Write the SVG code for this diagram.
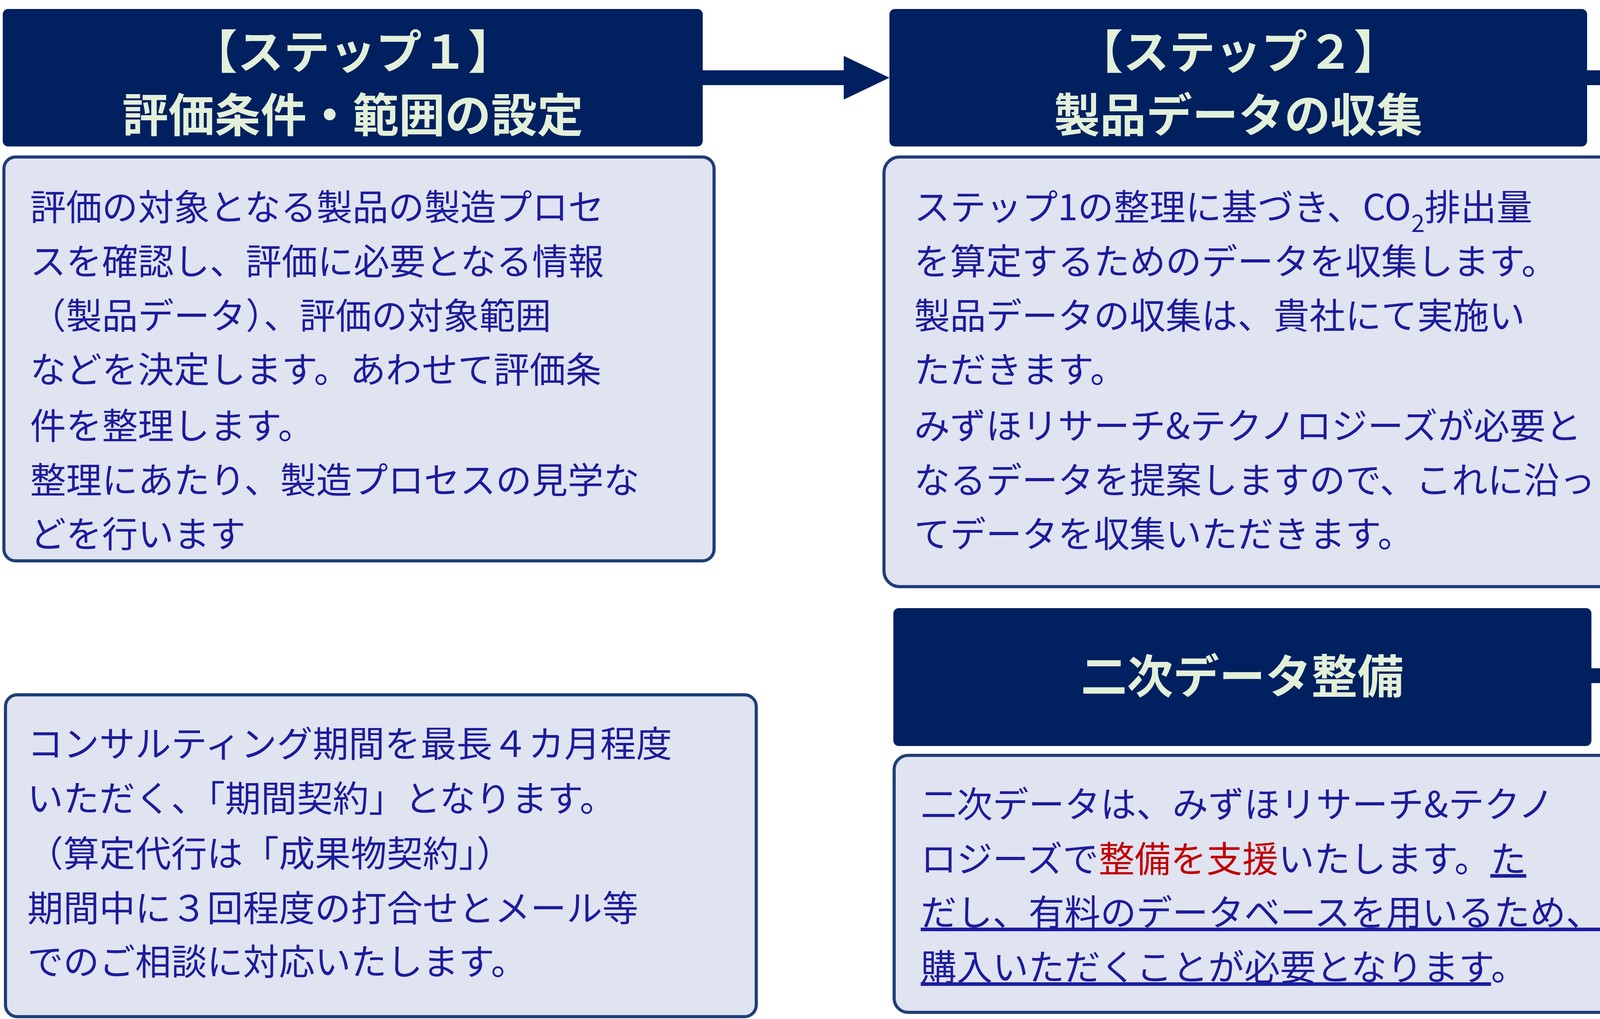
<svg xmlns="http://www.w3.org/2000/svg" width="6334" height="2609" viewBox="0 0 6334 2609">
<style>
.hd{fill:#002060}
.hd3{fill:#C00000}
.bx{fill:#E0E3F0;stroke:#1F3E78;stroke-width:8}
.bx3{fill:#FFC1C1;stroke:#1F3E78;stroke-width:8}
.ht{font-family:"Noto Sans CJK JP","Noto Sans",sans-serif;font-weight:bold;font-size:118px;fill:#E2F0D9;text-anchor:middle}
.bt{font-family:"Noto Sans CJK JP","Noto Sans",sans-serif;font-size:92px;fill:#1C1C9C}
.rt{fill:#C00000}
.nt{font-family:"Noto Sans CJK JP","Noto Sans",sans-serif;font-size:86px;fill:#222;letter-spacing:14px}
.cn{fill:none;stroke:#002060;stroke-width:38}
.ah{fill:#002060}
</style>
<g id="connectors">
<path class="cn" d="M1799,199 H2170"/>
<polygon class="ah" points="2160,143 2277,199 2160,255"/>
<path class="cn" d="M4063,199 H4440"/>
<path class="cn" d="M4074,1730 H4308 V199"/>
<polygon class="ah" points="4425,143 4533,199 4425,255"/>
</g>
<g id="step1">
<rect class="hd" x="7" y="23" width="1792" height="352" rx="14"/>
<text class="ht" x="903" y="176">【ステップ１】</text>
<text class="ht" x="903" y="338">評価条件・範囲の設定</text>
</g>
<g id="step1-body">
<rect class="bx" x="10" y="402" width="1818" height="1034" rx="30"/>
<text class="bt" x="77" y="564">評価の対象となる製品の製造プロセ</text>
<text class="bt" x="77" y="703">スを確認し、評価に必要となる情報</text>
<text class="bt" x="77" y="842">（製品データ）、評価の対象範囲</text>
<text class="bt" x="77" y="980">などを決定します。あわせて評価条</text>
<text class="bt" x="77" y="1124">件を整理します。</text>
<text class="bt" x="77" y="1263">整理にあたり、製造プロセスの見学な</text>
<text class="bt" x="77" y="1401">どを行います</text>
</g>
<g id="step2">
<rect class="hd" x="2277" y="23" width="1786" height="352" rx="14"/>
<text class="ht" x="3170" y="176">【ステップ２】</text>
<text class="ht" x="3170" y="338">製品データの収集</text>
</g>
<g id="step2-body">
<rect class="bx" x="2263" y="402" width="1929" height="1100" rx="40"/>
<text class="bt" x="2340" y="564">ステップ1の整理に基づき、CO<tspan font-size="62" dy="30">2</tspan><tspan dy="-30">排出量</tspan></text>
<text class="bt" x="2340" y="703">を算定するためのデータを収集します。</text>
<text class="bt" x="2340" y="842">製品データの収集は、貴社にて実施い</text>
<text class="bt" x="2340" y="980">ただきます。</text>
<text class="bt" x="2340" y="1124">みずほリサーチ&amp;テクノロジーズが必要と</text>
<text class="bt" x="2340" y="1263">なるデータを提案しますので、これに沿っ</text>
<text class="bt" x="2340" y="1401">てデータを収集いただきます。</text>
</g>
<g id="step3">
<rect class="hd3" x="4540" y="23" width="1790" height="352" rx="14"/>
<text class="ht" x="5435" y="176">【ステップ３】</text>
<text class="ht" x="5435" y="338">算定の実施※</text>
</g>
<g id="step3-body">
<rect class="bx3" x="4531" y="398" width="1795" height="527" rx="16"/>
<text class="bt rt" x="4601" y="546">ステップ2で収集しました製品データと</text>
<text class="bt rt" x="4601" y="684">二次データをもとにCO<tspan font-size="62" dy="30">2</tspan><tspan dy="-30">排出量を算</tspan></text>
<text class="bt rt" x="4601" y="823">定します。</text>
</g>
<g id="note">
<text class="nt" x="4785" y="1152">（※）ステップ３以降は貴社にて</text>
<text class="nt" x="4840" y="1272">実施いただき、弊社はそのご相</text>
<text class="nt" x="4840" y="1392">談に対応します。</text>
</g>
<g id="consulting">
<rect class="bx" x="14" y="1779" width="1922" height="824" rx="30"/>
<text class="bt" x="70" y="1938">コンサルティング期間を最長４カ月程度</text>
<text class="bt" x="70" y="2078">いただく、「期間契約」となります。</text>
<text class="bt" x="70" y="2219">（算定代行は「成果物契約」）</text>
<text class="bt" x="70" y="2359">期間中に３回程度の打合せとメール等</text>
<text class="bt" x="70" y="2496">でのご相談に対応いたします。</text>
</g>
<g id="secondary">
<rect class="hd" x="2287" y="1557" width="1787" height="353" rx="14"/>
<text class="ht" x="3180" y="1775">二次データ整備</text>
</g>
<g id="secondary-body">
<rect class="bx" x="2289" y="1934" width="1850" height="658" rx="36"/>
<text class="bt" x="2357" y="2093">二次データは、みずほリサーチ&amp;テクノ</text>
<text class="bt" x="2357" y="2233">ロジーズで<tspan class="rt">整備を支援</tspan>いたします。<tspan text-decoration="underline">た</tspan></text>
<text class="bt" x="2357" y="2370" text-decoration="underline">だし、有料のデータベースを用いるため、</text>
<text class="bt" x="2357" y="2510"><tspan text-decoration="underline">購入いただくことが必要となります</tspan>。</text>
</g>
</svg>
